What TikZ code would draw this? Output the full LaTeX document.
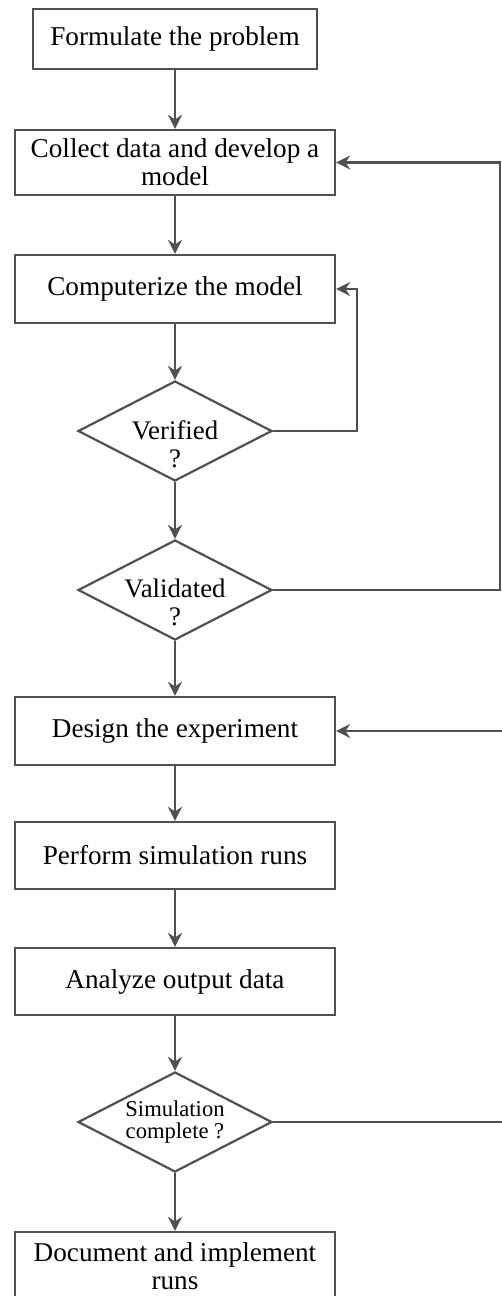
\documentclass[tikz,border=0pt]{standalone}
\usepackage{fontspec}
\setmainfont{Liberation Serif}
\usetikzlibrary{shapes.geometric, arrows.meta}
\definecolor{LineGray}{RGB}{80, 80, 80}

\begin{document}
\begin{tikzpicture}[x=0.5pt, y=-0.5pt,
    stepbox/.style={draw=LineGray, line width=1.1pt, minimum width=160pt, minimum height=34pt, inner sep=0pt, align=center, font=\fontsize{13.6}{14}\selectfont},
    decision/.style={draw=LineGray, line width=1.1pt, diamond, minimum width=97pt, minimum height=50pt, inner sep=0pt},
    ask/.style={align=center, inner sep=0pt, font=\fontsize{13.4}{14}\selectfont},
    arr/.style={draw=LineGray, line width=1.1pt, -{Stealth[length=7pt, width=7pt]}},
    link/.style={draw=LineGray, line width=1.1pt}]
    \clip (0,0) rectangle (502,1296);

    % Steps
    \node[stepbox, minimum width=142pt, minimum height=30pt] (formulate) at (175,39) {Formulate the problem};
    \node[stepbox, minimum height=32.5pt] (collect) at (175,162.5) {Collect data and develop a\\model};
    \node[stepbox] (computerize) at (175,289) {Computerize the model};
    \node[decision] (verified) at (175,431) {};
    \node[ask] (verifiedq) at ([yshift=-6.5pt]verified.center) {Verified\\?};
    \node[decision] (validated) at (175,590) {};
    \node[ask] (validatedq) at ([yshift=-6pt]validated.center) {Validated\\?};
    \node[stepbox] (design) at (175,731) {Design the experiment};
    \node[stepbox, minimum height=33.5pt] (perform) at (175,855.5) {Perform simulation runs};
    \node[stepbox, minimum height=33.5pt] (analyze) at (175,981.5) {Analyze output data};
    \node[decision] (simdone) at (175,1122) {};
    \node[ask, font=\fontsize{11.3}{11}\selectfont] (simdoneq) at (simdone.center) {Simulation\\complete ?};
    \node[stepbox] (document) at (175,1266) {Document and implement\\runs};

    % Main flow
    \draw[arr] (formulate) -- (collect);
    \draw[arr] (collect) -- (computerize);
    \draw[arr] (computerize) -- (verified);
    \draw[arr] (verified) -- (validated);
    \draw[arr] (validated) -- (design);
    \draw[arr] (design) -- (perform);
    \draw[arr] (perform) -- (analyze);
    \draw[arr] (analyze) -- (simdone);
    \draw[arr] (simdone) -- (document);

    % Feedback loops
    \draw[arr] (verified.east) -- ++(84,0) |- (computerize.east);
    \draw[arr] (validated.east) -- ++(227,0) |- (collect.east);
    \coordinate (redesign) at (502,731);
    \coordinate (rerun) at (502,1122);
    \draw[arr] (redesign) -- (design.east);
    \draw[link] (simdone.east) -- (rerun);
\end{tikzpicture}
\end{document}
